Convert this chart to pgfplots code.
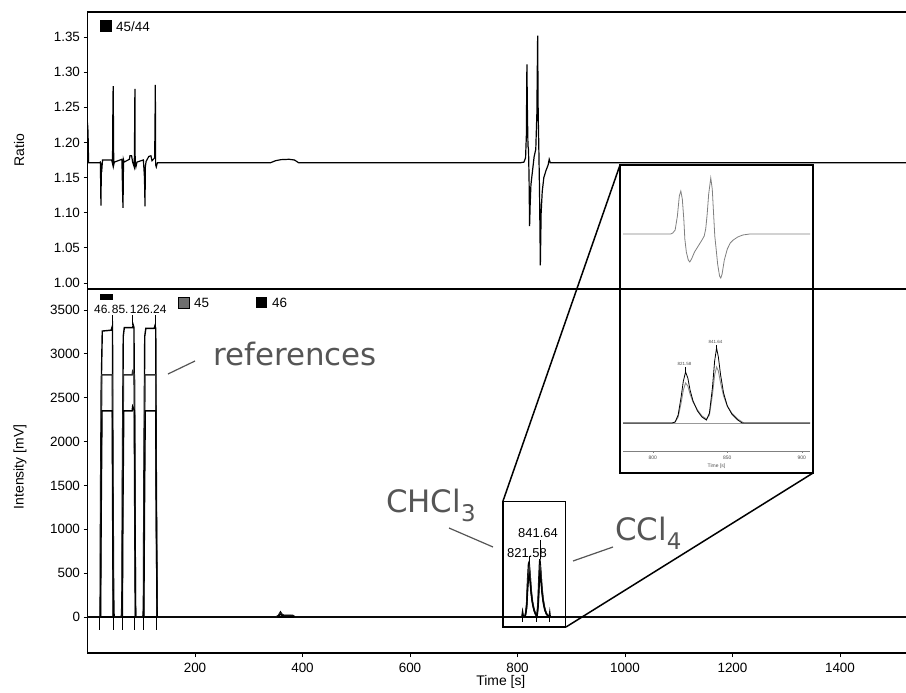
\documentclass[border=0pt]{standalone}
\usepackage{pgfplots}
\pgfplotsset{compat=1.18}
\usepackage{fontspec}
\setmainfont{Liberation Sans}
\newfontfamily\dv{DejaVu Sans}
\definecolor{anno}{HTML}{555555}
\definecolor{g45}{HTML}{6E6E6E}
\definecolor{t45}{HTML}{303030}
\begin{document}
\begin{tikzpicture}
\path[use as bounding box] (0bp,0bp) rectangle (906bp,-693bp);
\pgfplotsset{
  mainax/.style={
    anchor=north west, scale only axis, width=830bp,
    xmin=0, xmax=1544.2,
    tick align=outside, major tick length=4bp,
    ytick pos=left, xtick pos=bottom,
    axis line style={line width=1.6bp},
    every tick/.style={black, line width=0.8bp},
    tick label style={font=\fontsize{13.5}{15}\selectfont},
    /pgf/number format/assume math mode=true,
    label style={font=\fontsize{14}{16}\selectfont},
  }
}
% ---------------- upper panel: ratio 45/44
\begin{axis}[mainax, at={(87.5bp,-12bp)}, height=277bp,
  ymin=0.9915, ymax=1.3855, xtick=\empty,
  ytick={1.00,1.05,1.10,1.15,1.20,1.25,1.30,1.35},
  yticklabel style={/pgf/number format/.cd, fixed, fixed zerofill, precision=2, assume math mode=true},
  ylabel={Ratio},
  ylabel style={at={(axis description cs:-0.0825,0.502)}, anchor=center},
]
\addplot[black, line width=1.2bp] coordinates {
(0,1.228) (1,1.215) (2,1.171) (22,1.171) (24,1.172) (25,1.110) (25.5,1.145) (26,1.170) (27,1.165) (28,1.175) (45,1.175) (46.5,1.170) (47,1.215) (47.3,1.260) (47.8,1.280) (48.3,1.225) (48.8,1.168) (50,1.172) (64,1.176) (65,1.140) (66,1.107) (66.5,1.135) (67,1.175) (68,1.172) (78,1.176) (79,1.181) (82,1.181) (84,1.172) (87,1.165) (87.7,1.220) (88.2,1.276) (88.7,1.170) (90,1.165) (92,1.172) (104,1.175) (106,1.150) (107,1.109) (107.6,1.165) (109,1.173) (114,1.180) (118,1.181) (120,1.174) (125,1.178) (125.6,1.225) (126.2,1.282) (126.8,1.168) (128,1.165) (130,1.171) (340,1.171) (350,1.174) (360,1.1755) (375,1.176) (385,1.175) (393,1.171) (805,1.171) (812,1.172) (815,1.178) (816.5,1.210) (817.5,1.311) (818.5,1.240) (819.5,1.195) (820.5,1.190) (821.5,1.150) (822.5,1.081) (823.5,1.110) (825,1.140) (828,1.160) (831,1.180) (834,1.190) (836,1.240) (837.5,1.352) (838.5,1.240) (839.5,1.200) (841,1.130) (842.5,1.025) (844,1.100) (846,1.130) (849,1.150) (853,1.160) (857,1.168) (859,1.176) (861,1.171) (1544,1.171)
};
\end{axis}
% legend of lower panel (the entry for 44 is hidden under the peak labels)
\fill[black] (100bp,-294bp) rectangle (113bp,-300bp);
\fill[g45] (178bp,-297bp) rectangle (189bp,-308bp);
\draw[black, line width=0.5bp] (178bp,-297bp) rectangle (189bp,-308bp);
\node[anchor=west, inner sep=0pt, font=\fontsize{13.5}{15}\selectfont] at (194bp,-302.5bp) {45};
\fill[black] (256bp,-297bp) rectangle (267bp,-308bp);
\node[anchor=west, inner sep=0pt, font=\fontsize{13.5}{15}\selectfont] at (272bp,-302.5bp) {46};
% ---------------- lower panel: intensities
\begin{axis}[mainax, at={(87.5bp,-289bp)}, height=364bp,
  ymin=-410.4, ymax=3739.5,
  xtick={200,400,...,1400}, ytick={0,500,...,3500},
  scaled ticks=false,
  /pgf/number format/1000 sep={},
  xticklabel style={yshift=-3bp},
  xlabel={Time [s]}, ylabel={Intensity [mV]},
  xlabel style={at={(axis description cs:0.498,-0.0797)}, anchor=center},
  ylabel style={at={(axis description cs:-0.0813,0.511)}, anchor=center},
]
% zero line
\addplot[black, line width=1.2bp] coordinates {(0,0) (1544,0)};
% mass 44
\addplot[black, line width=1.4bp] coordinates {
(0,0) (22,0) (23.5,0) (24.2,1250) (25.5,2600) (27.5,3260) (44,3270) (46.5,3320) (47.3,1650) (48.6,300) (49.5,0) (63,0) (64,150) (65,1650) (66.5,3200) (68.5,3300) (84,3300) (85,3330) (86.5,3300) (87.5,1600) (89,0) (103,0) (104,100) (105,1650) (106.5,3200) (108.5,3290) (124,3290) (125.5,3320) (127,3290) (128,1650) (129.5,0) (350,0) (355,15) (359,57) (362,30) (365,20) (382,18) (385,0) (808,0) (809.5,60) (811,0) (813,0) (815,30) (817,150) (819,450) (820.5,610) (821.6,627) (823,520) (825,330) (827,200) (830,100) (833,40) (836,10) (838,150) (840,480) (841,620) (841.6,660) (843,560) (845,360) (847,220) (850,110) (853,50) (856,20) (859,5) (860,50) (861,0) (1544,0)
};
% mass 45
\addplot[t45, line width=1.4bp] coordinates {
(0,0) (24,0) (25,1300) (26.5,2760) (46,2760) (47,1600) (48,0) (64.5,0) (65.5,1600) (67,2760) (83,2760) (84,2800) (87.5,2760) (88.5,1200) (89.5,0) (104.5,0) (105.5,1600) (107,2760) (127,2760) (128,1200) (129.5,0) (352,0) (359,40) (363,18) (383,14) (386,0) (814,0) (817,120) (819,390) (820.5,530) (821.8,560) (823.5,470) (825.5,300) (828,170) (831,80) (834,30) (836.5,15) (838.5,150) (840.5,450) (841.8,590) (843.5,500) (845.5,330) (848,190) (851,90) (854,35) (858,10) (861,0) (1544,0)
};
% mass 46
\addplot[black, line width=1.4bp] coordinates {
(0,0) (24.3,0) (25.5,1200) (27,2350) (46,2350) (46.8,1200) (47.8,0) (64.8,0) (66,1300) (67.5,2350) (83,2350) (84,2400) (87.5,2350) (88.5,1000) (89.5,0) (104.8,0) (106,1200) (107.5,2350) (127,2350) (128,1100) (129.5,0) (353,0) (359,30) (364,12) (383,10) (386,0) (814,0) (817,100) (819,330) (820.5,450) (821.8,480) (823.5,400) (825.5,260) (828,150) (831,70) (834,25) (836.5,12) (838.5,130) (840.5,390) (841.8,505) (843.5,430) (845.5,280) (848,160) (851,75) (854,30) (858,8) (861,0) (1544,0)
};
% integration markers
\addplot[ycomb, black, line width=0.9bp, mark=none] coordinates {
(23,-150) (48,-150) (65,-150) (88,-150) (104,-150) (129,-150) (810,-60) (836,-60) (860,-60)
};
% peak markers and labels
\draw[black, line width=0.6bp] (axis cs:46.5,3320) -- (axis cs:46.5,3440);
\draw[black, line width=0.6bp] (axis cs:84,3330) -- (axis cs:84,3440);
\draw[black, line width=0.6bp] (axis cs:125.5,3320) -- (axis cs:125.5,3440);
\node[anchor=west, inner sep=0pt, font=\fontsize{12}{14}\selectfont] at (axis cs:12.1,3512) {46.};
\node[anchor=west, inner sep=0pt, font=\fontsize{12}{14}\selectfont] at (axis cs:45.1,3512) {85.};
\node[anchor=west, inner sep=0pt, font=\fontsize{12}{14}\selectfont] at (axis cs:78.6,3512) {126.24};
\node[inner sep=0pt, font=\fontsize{13}{15}\selectfont] at (axis cs:817.7,730) {821.58};
\node[inner sep=0pt, font=\fontsize{13}{15}\selectfont] at (axis cs:838.1,958) {841.64};
\draw[black, line width=0.6bp] (axis cs:821.6,627) -- (axis cs:821.6,690);
\draw[black, line width=0.6bp] (axis cs:841.6,660) -- (axis cs:841.6,880);
% zoom rectangle
\draw[black, line width=1.1bp] (axis cs:773,-114) rectangle (axis cs:890,1321);
\end{axis}
% upper legend
\fill[black] (100bp,-20bp) rectangle (112bp,-32bp);
\node[anchor=west, inner sep=0pt, font=\fontsize{13.5}{15}\selectfont] at (116bp,-26.5bp) {45/44};
% annotations
\draw[anno, line width=1.2bp] (168bp,-374bp) -- (195bp,-361bp);
\node[anchor=base west, inner sep=0pt, text=anno, font=\dv\fontsize{31}{34}\selectfont] at (213bp,-365bp) {references};
\draw[anno, line width=1.2bp] (449bp,-528bp) -- (493bp,-547bp);
\node[anchor=base west, inner sep=0pt, text=anno, font=\dv\fontsize{31}{34}\selectfont] at (386bp,-512bp) {CHCl\raisebox{-9bp}{\fontsize{23}{23}\selectfont 3}};
\draw[anno, line width=1.2bp] (573bp,-561bp) -- (613bp,-547bp);
\node[anchor=base west, inner sep=0pt, text=anno, font=\dv\fontsize{31}{34}\selectfont] at (615bp,-540bp) {CCl\raisebox{-9bp}{\fontsize{23}{23}\selectfont 4}};
% inset frame
\filldraw[fill=white, draw=black, line width=1.5bp] (620bp,-165bp) rectangle (813bp,-473bp);
\draw[black, line width=1.6bp] (620bp,-289bp) -- (813bp,-289bp);
% inset upper: ratio zoom
\begin{axis}[at={(623bp,-165bp)}, anchor=north west, scale only axis,
  width=187bp, height=123bp, xmin=780, xmax=905.5, ymin=-54, ymax=69,
  axis lines=none, clip=false]
\addplot[gray, line width=0.8bp] coordinates {
(780,0) (812,0) (813.4,1) (815,4) (816.5,18) (817.8,38) (818.8,43) (819.8,35) (820.8,15) (821.5,-5) (822.5,-18) (823.8,-26) (824.8,-28) (826,-25) (828,-18) (830.5,-12) (833,-6) (834.5,-2) (835.5,5) (836.5,20) (837.5,40) (838.9,56) (839.9,45) (840.8,20) (841.6,-2) (842.5,-15) (843.5,-30) (844.8,-42) (845.6,-44) (846.5,-40) (848,-26) (850,-15) (852,-9) (854,-6) (857,-3) (860.4,-1) (865,0) (905.5,0)
};
\end{axis}
% inset lower: intensity zoom
\begin{axis}[at={(623bp,-289bp)}, anchor=north west, scale only axis,
  width=187bp, height=162bp, xmin=780, xmax=905.5, ymin=-28, ymax=134,
  axis x line=bottom, axis y line=none,
  axis line style={-, gray, line width=0.6bp},
  xtick={800,850,900}, tick align=outside, major tick length=1.5bp,
  every tick/.style={gray, line width=0.4bp},
  tick label style={font=\fontsize{5}{6}\selectfont, text=black!70},
  /pgf/number format/assume math mode=true,
  xlabel={Time [s]}, xlabel style={font=\fontsize{5}{6}\selectfont, text=black!70, inner sep=1bp},
  clip=false]
\addplot[gray!80, line width=0.6bp] coordinates {(780,0) (905.5,0)};
\addplot[g45!80, line width=0.9bp] coordinates {
(780,0) (813,0) (815,1) (817,6) (819,20) (820.5,33) (822,40) (823.5,37) (825,29) (827,21) (830,13) (833,7) (836,4) (838,8) (840,28) (841.5,48) (842.8,56) (844,52) (845.5,40) (847.5,27) (850,17) (853,10) (857,4) (861,0) (905.5,0)
};
\addplot[black, line width=0.8bp] coordinates {
(780,0) (813,0) (815,1) (817,8) (819,26) (820.5,42) (822,51) (823.5,45) (825,33) (827,22) (830,12) (833,6) (836,3) (838,10) (840,35) (841.5,62) (842.8,75) (844,66) (845.5,48) (847.5,30) (850,17) (853,9) (857,3) (860,0) (905.5,0)
};
\draw[black, line width=0.3bp] (axis cs:822,51) -- (axis cs:822,56);
\draw[black, line width=0.3bp] (axis cs:842.8,75) -- (axis cs:842.8,78);
\node[inner sep=0pt, font=\fontsize{4.5}{5}\selectfont, text=black!70] at (axis cs:821.3,59) {821.58};
\node[inner sep=0pt, font=\fontsize{4.5}{5}\selectfont, text=black!70] at (axis cs:842,81) {841.64};
\end{axis}
% connecting lines of the zoom
\draw[black, line width=1.5bp] (503bp,-501bp) -- (620bp,-165bp);
\draw[black, line width=1.5bp] (566bp,-627bp) -- (813bp,-473bp);
\end{tikzpicture}
\end{document}
